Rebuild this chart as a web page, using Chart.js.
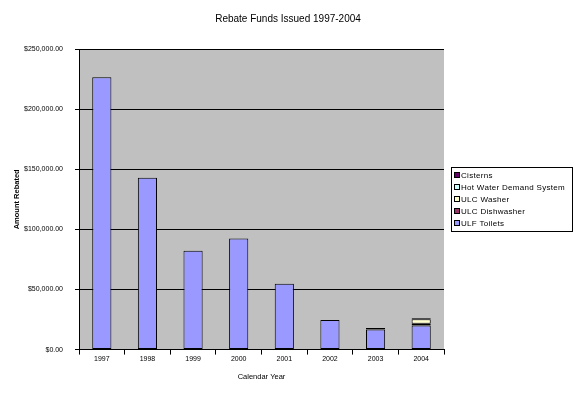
<!DOCTYPE html>
<html lang="en">
<head>
<meta charset="UTF-8">
<title>Rebate Funds Issued 1997-2004</title>
<script src="https://cdn.jsdelivr.net/npm/chart.js"></script>
<style>
  html, body { margin: 0; padding: 0; background: #fff; }
  .chartBox { width: 576px; height: 393px; }
</style>
</head>
<body>
<div class="chartBox"><canvas id="myChart" width="576" height="393"></canvas></div>
<script>
// data
const chartTitle = 'Rebate Funds Issued 1997-2004';
const years = ['1997', '1998', '1999', '2000', '2001', '2002', '2003', '2004'];
const ulfToilets     = [226500, 143000, 82200, 92500, 54700, 24700, 16700, 20000];
const ulcDishwasher  = [null, null, null, null, null, null, 1200, 1600];
const ulcWasher      = [null, null, null, null, null, null, null, 3700];
const hotWater       = [null, null, null, null, null, null, null, 300];
const cisterns       = [null, null, null, null, null, null, null, 600];
const yTicks = [0, 50000, 100000, 150000, 200000, 250000];

// gray plot background + title centred on the whole page
const plotBg = {
  id: 'plotBg',
  beforeDraw(chart) {
    const a = chart.chartArea, ctx = chart.ctx;
    ctx.save();
    ctx.fillStyle = '#c0c0c0';
    ctx.fillRect(a.left, a.top, a.right - a.left, a.bottom - a.top);
    ctx.fillStyle = '#000';
    ctx.font = '10px Arial';
    ctx.textAlign = 'center';
    ctx.textBaseline = 'middle';
    ctx.fillText(chartTitle, chart.width / 2, 19);
    ctx.restore();
  }
};

// boxed legend, top entry = top of the stack
const boxLegend = {
  id: 'boxLegend',
  afterDraw(chart) {
    const ctx = chart.ctx;
    const x = 451, y = 167, w = 121, h = 64;
    ctx.save();
    ctx.fillStyle = '#fff';
    ctx.fillRect(x, y, w, h);
    ctx.strokeStyle = '#000';
    ctx.lineWidth = 1;
    ctx.strokeRect(x + 0.5, y + 0.5, w, h);
    ctx.font = '8px Arial';
    ctx.letterSpacing = '0.3px';
    ctx.textBaseline = 'middle';
    const sets = chart.data.datasets.slice().reverse();
    sets.forEach((ds, i) => {
      const cy = y + 8 + i * 12;
      ctx.fillStyle = ds.backgroundColor;
      ctx.fillRect(x + 3, cy - 3, 5, 5);
      ctx.strokeStyle = '#000';
      ctx.strokeRect(x + 3.5, cy - 2.5, 5, 5);
      ctx.fillStyle = '#000';
      ctx.fillText(ds.label, x + 10, cy + 0.5);
    });
    ctx.restore();
  }
};

const mk = (label, data, color) => ({
  label, data,
  backgroundColor: color,
  borderColor: '#000',
  borderWidth: 1,
  borderSkipped: false,
  categoryPercentage: 1,
  barPercentage: 0.42
});

const data = {
  labels: years,
  datasets: [
    mk('ULF Toilets', ulfToilets, '#9999ff'),
    mk('ULC Dishwasher', ulcDishwasher, '#993366'),
    mk('ULC Washer', ulcWasher, '#ffffcc'),
    mk('Hot Water Demand System', hotWater, '#ccffff'),
    mk('Cisterns', cisterns, '#660066')
  ]
};

const config = {
  type: 'bar',
  data,
  plugins: [plotBg, boxLegend],
  options: {
    responsive: false,
    animation: false,
    layout: { padding: { top: 49, left: 8, right: 132, bottom: 8 } },
    plugins: {
      legend: { display: false },
      tooltip: { enabled: false },
      title: { display: false }
    },
    scales: {
      x: {
        stacked: true,
        grid: { offset: true, drawOnChartArea: false, color: '#000', tickLength: 5 },
        border: { color: '#000' },
        ticks: { color: '#000', font: { family: 'Arial', size: 7 }, padding: 0 },
        title: { display: true, text: 'Calendar Year', color: '#000', font: { family: 'Arial', size: 7.5 }, padding: { top: 9 } }
      },
      y: {
        stacked: true,
        min: 0,
        max: 250000,
        afterBuildTicks: (s) => { s.ticks = yTicks.map(v => ({ value: v })); },
        afterFit: (s) => { s.width = 71; },
        grid: { color: '#000', tickLength: 4 },
        border: { color: '#000' },
        ticks: {
          color: '#000',
          font: { family: 'Arial', size: 7 },
          padding: 12,
          callback: (v) => '$' + Number(v).toLocaleString('en-US', { minimumFractionDigits: 2, maximumFractionDigits: 2 })
        },
        title: { display: true, text: 'Amount Rebated', color: '#000', font: { family: 'Arial', size: 7.5, weight: 'bold' } }
      }
    }
  }
};

const myChart = new Chart(document.getElementById('myChart'), config);
</script>
</body>
</html>
